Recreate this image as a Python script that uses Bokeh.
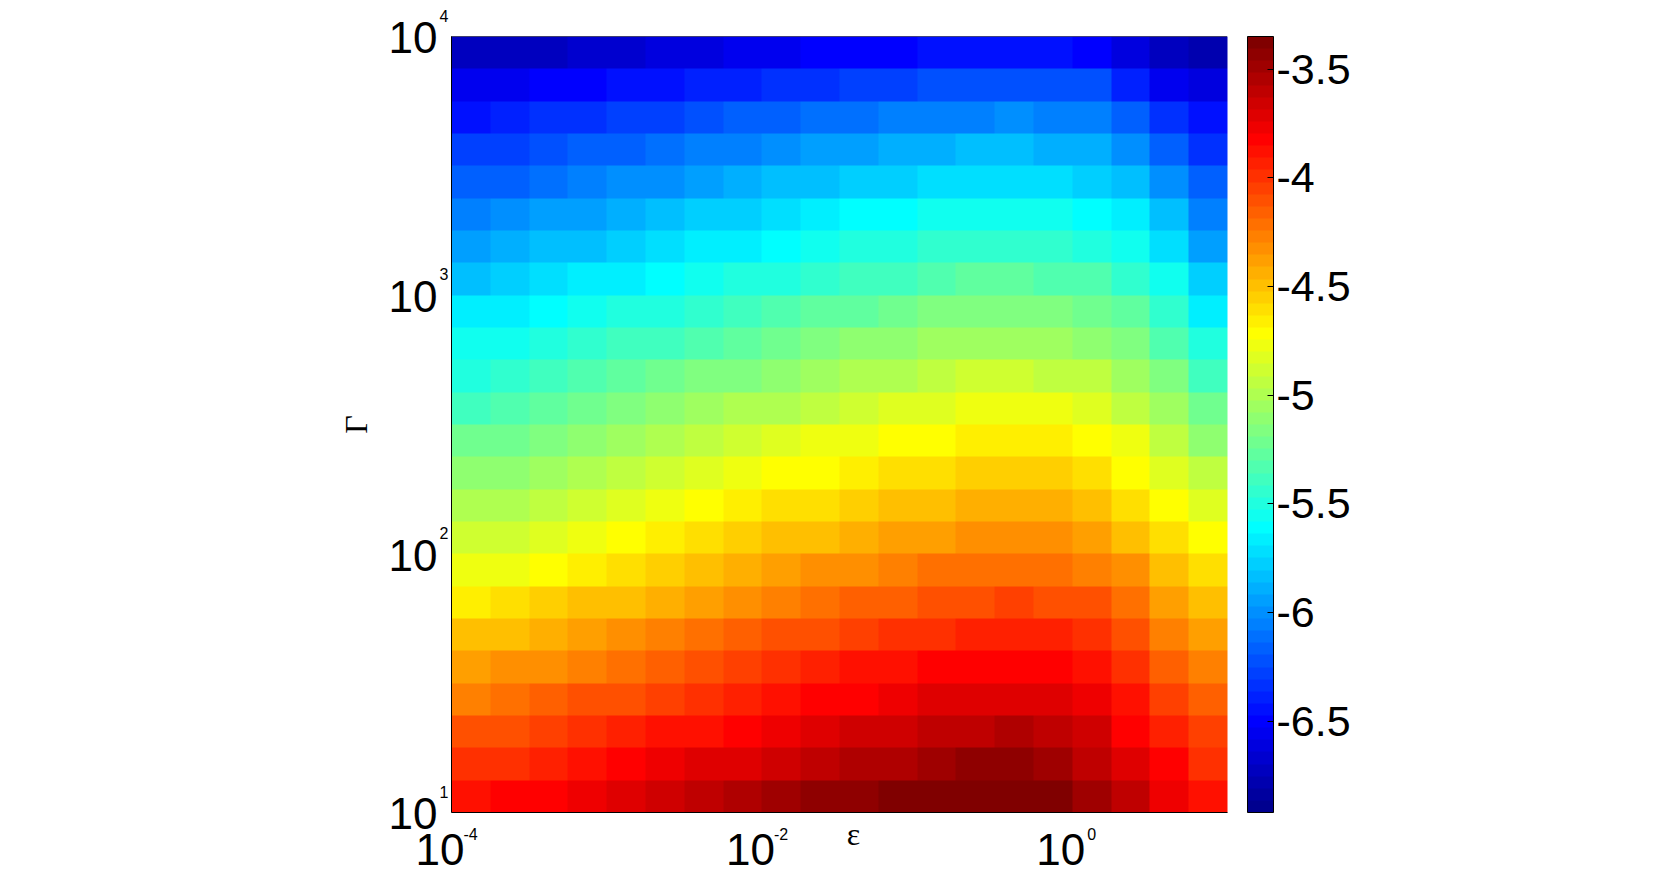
import numpy as np
from bokeh.plotting import figure
from bokeh.models import LinearColorMapper, ColorBar, FixedTicker, Label, Range1d, CustomJSTickFormatter
from bokeh.embed import file_html
from bokeh.resources import INLINE

# ---------------- data ----------------
eps_min, eps_max = 1e-4, 1e1          # x extent (epsilon)
gamma_min, gamma_max = 1e1, 1e4       # y extent (Gamma)

# rows from bottom (Gamma = 10) to top (Gamma = 1e4); 20 columns from eps = 1e-4 to 10
rate_rows = [
    [-3.88, -3.84, -3.80, -3.75, -3.70, -3.65, -3.61, -3.56, -3.51, -3.46, -3.42, -3.39, -3.36, -3.33, -3.32, -3.34, -3.47, -3.61, -3.75, -3.87],
    [-4.01, -3.97, -3.93, -3.88, -3.83, -3.78, -3.74, -3.69, -3.64, -3.59, -3.55, -3.52, -3.49, -3.46, -3.45, -3.47, -3.58, -3.71, -3.85, -3.98],
    [-4.13, -4.09, -4.05, -4.00, -3.95, -3.90, -3.86, -3.81, -3.76, -3.71, -3.67, -3.64, -3.61, -3.58, -3.57, -3.59, -3.67, -3.80, -3.95, -4.07],
    [-4.26, -4.22, -4.18, -4.13, -4.08, -4.03, -3.99, -3.94, -3.89, -3.84, -3.80, -3.77, -3.74, -3.71, -3.70, -3.72, -3.78, -3.90, -4.05, -4.18],
    [-4.39, -4.35, -4.30, -4.25, -4.20, -4.15, -4.10, -4.05, -4.00, -3.95, -3.90, -3.87, -3.84, -3.81, -3.80, -3.82, -3.89, -4.01, -4.15, -4.28],
    [-4.52, -4.48, -4.43, -4.38, -4.33, -4.28, -4.23, -4.18, -4.13, -4.08, -4.03, -4.00, -3.97, -3.94, -3.93, -3.95, -4.00, -4.11, -4.25, -4.39],
    [-4.66, -4.62, -4.57, -4.52, -4.47, -4.42, -4.37, -4.32, -4.27, -4.22, -4.17, -4.14, -4.11, -4.08, -4.07, -4.09, -4.13, -4.23, -4.37, -4.51],
    [-4.79, -4.75, -4.70, -4.65, -4.60, -4.55, -4.50, -4.45, -4.40, -4.35, -4.30, -4.27, -4.24, -4.21, -4.20, -4.22, -4.26, -4.35, -4.49, -4.63],
    [-4.91, -4.87, -4.82, -4.77, -4.72, -4.67, -4.62, -4.57, -4.52, -4.47, -4.42, -4.39, -4.36, -4.33, -4.32, -4.34, -4.38, -4.47, -4.60, -4.74],
    [-5.02, -4.98, -4.93, -4.88, -4.83, -4.78, -4.73, -4.68, -4.63, -4.58, -4.53, -4.50, -4.47, -4.44, -4.43, -4.45, -4.49, -4.58, -4.71, -4.85],
    [-5.13, -5.09, -5.04, -4.99, -4.94, -4.89, -4.84, -4.79, -4.74, -4.69, -4.64, -4.61, -4.58, -4.55, -4.54, -4.56, -4.60, -4.69, -4.82, -4.96],
    [-5.24, -5.20, -5.15, -5.10, -5.05, -5.00, -4.95, -4.90, -4.85, -4.80, -4.75, -4.72, -4.69, -4.66, -4.65, -4.67, -4.71, -4.80, -4.93, -5.08],
    [-5.36, -5.32, -5.27, -5.22, -5.17, -5.12, -5.07, -5.02, -4.97, -4.92, -4.87, -4.84, -4.81, -4.78, -4.77, -4.79, -4.83, -4.92, -5.05, -5.22],
    [-5.47, -5.43, -5.38, -5.34, -5.29, -5.24, -5.19, -5.14, -5.09, -5.04, -5.00, -4.97, -4.94, -4.91, -4.90, -4.92, -4.96, -5.04, -5.18, -5.36],
    [-5.58, -5.54, -5.50, -5.45, -5.40, -5.36, -5.31, -5.26, -5.22, -5.17, -5.12, -5.09, -5.06, -5.04, -5.03, -5.05, -5.08, -5.17, -5.31, -5.50],
    [-5.69, -5.66, -5.61, -5.57, -5.52, -5.47, -5.43, -5.38, -5.34, -5.29, -5.25, -5.22, -5.19, -5.16, -5.16, -5.17, -5.21, -5.29, -5.44, -5.64],
    [-5.81, -5.78, -5.73, -5.69, -5.65, -5.60, -5.56, -5.51, -5.47, -5.43, -5.38, -5.36, -5.33, -5.30, -5.29, -5.31, -5.35, -5.43, -5.58, -5.79],
    [-5.92, -5.89, -5.85, -5.81, -5.76, -5.72, -5.68, -5.64, -5.59, -5.55, -5.51, -5.48, -5.46, -5.43, -5.42, -5.44, -5.47, -5.55, -5.72, -5.92],
    [-6.04, -6.00, -5.96, -5.92, -5.88, -5.84, -5.80, -5.76, -5.72, -5.67, -5.63, -5.61, -5.58, -5.56, -5.55, -5.57, -5.60, -5.67, -5.86, -6.05],
    [-6.17, -6.14, -6.10, -6.06, -6.02, -5.98, -5.94, -5.90, -5.86, -5.82, -5.78, -5.76, -5.74, -5.71, -5.71, -5.72, -5.75, -5.85, -6.02, -6.19],
    [-6.29, -6.26, -6.22, -6.18, -6.15, -6.11, -6.07, -6.04, -6.00, -5.96, -5.93, -5.90, -5.88, -5.86, -5.85, -5.87, -5.90, -6.00, -6.17, -6.33],
    [-6.42, -6.39, -6.36, -6.32, -6.29, -6.26, -6.22, -6.19, -6.15, -6.12, -6.09, -6.07, -6.05, -6.03, -6.02, -6.03, -6.06, -6.17, -6.34, -6.47],
    [-6.57, -6.55, -6.52, -6.49, -6.46, -6.43, -6.40, -6.37, -6.34, -6.31, -6.28, -6.26, -6.24, -6.22, -6.22, -6.23, -6.25, -6.39, -6.53, -6.63],
    [-6.74, -6.72, -6.70, -6.67, -6.65, -6.62, -6.60, -6.57, -6.55, -6.52, -6.50, -6.48, -6.47, -6.45, -6.45, -6.46, -6.48, -6.62, -6.73, -6.80],
]

cbar_low, cbar_high = -6.92, -3.35
cbar_ticks = [-6.5, -6.0, -5.5, -5.0, -4.5, -4.0, -3.5]

x_ticks = [1e-4, 1e-2, 1e0]
x_exponents = ["-4", "-2", "0"]
y_ticks = [1e1, 1e2, 1e3, 1e4]
y_exponents = ["1", "2", "3", "4"]

x_title = "ε"
y_title = "Γ"


# ---------------- MATLAB jet(64) colormap ----------------
def matlab_jet(m=64):
    n = int(np.ceil(m / 4))
    u = np.concatenate([np.arange(1, n + 1) / n, np.ones(n - 1), np.arange(n, 0, -1) / n])
    g = int(np.ceil(n / 2)) - (1 if m % 4 == 1 else 0) + np.arange(1, len(u) + 1)
    r = g + n
    b = g - n
    g = g[g <= m]
    r = r[r <= m]
    b = b[b >= 1]
    J = np.zeros((m, 3))
    J[r - 1, 0] = u[:len(r)]
    J[g - 1, 1] = u[:len(g)]
    J[b - 1, 2] = u[len(u) - len(b):]
    return ["#%02x%02x%02x" % tuple(int(round(c * 255)) for c in row) for row in J]


palette = matlab_jet(64)
mapper = LinearColorMapper(palette=palette, low=cbar_low, high=cbar_high)

# ---------------- layout (pixels on the page) ----------------
CANVAS_W, CANVAS_H = 1400, 875
AX_L, AX_R, AX_T, AX_B = 451, 1227, 36, 812        # image box
CB_L, CB_W = 1247, 26                               # colour bar
TICK_FONT = "Liberation Sans"
TITLE_FONT = "Liberation Serif"
BIG, SMALL, TITLE = 44, 16, 32                      # font sizes (px)
BASE_FIX = 0.355                                    # baseline correction (fraction of font size)

lx0, lx1 = np.log10(eps_min), np.log10(eps_max)
ly0, ly1 = np.log10(gamma_min), np.log10(gamma_max)
ppx = (AX_R - AX_L) / (lx1 - lx0)
ppy = (AX_B - AX_T) / (ly1 - ly0)
x_range = Range1d(10 ** (lx0 - AX_L / ppx), 10 ** (lx1 + (CANVAS_W - AX_R) / ppx))
y_range = Range1d(10 ** (ly0 - (CANVAS_H - AX_B) / ppy), 10 ** (ly1 + AX_T / ppy))

p = figure(
    x_axis_type="log", y_axis_type="log",
    x_range=x_range, y_range=y_range,
    frame_width=CANVAS_W, frame_height=CANVAS_H,
    min_border=0, min_border_left=0, min_border_right=0,
    min_border_top=0, min_border_bottom=0,
    output_backend="svg", toolbar_location=None,
    background_fill_color="white", border_fill_color="white",
    outline_line_color=None,
)
p.grid.visible = False
p.xaxis.visible = False
p.yaxis.visible = False

grid = np.array(rate_rows)
p.image(image=[grid], x=eps_min, y=gamma_min,
        dw=eps_max - eps_min, dh=gamma_max - gamma_min, color_mapper=mapper)

# axis lines: left and bottom solid, top dotted
p.segment(x0=[eps_min, eps_min], y0=[gamma_min, gamma_min],
          x1=[eps_min, eps_max], y1=[gamma_max, gamma_min],
          line_color="black", line_width=1)
p.segment(x0=[eps_min], y0=[gamma_max], x1=[eps_max], y1=[gamma_max],
          line_color="black", line_width=1, line_dash="1 1")

cb = ColorBar(
    color_mapper=mapper,
    ticker=FixedTicker(ticks=cbar_ticks),
    formatter=CustomJSTickFormatter(code="return tick.toString()"),
    width=CB_W, height=AX_B - AX_T, location=(CB_L, CANVAS_H - AX_B),
    padding=0, margin=0,
    major_label_text_font=TICK_FONT, major_label_text_font_size="43px",
    major_label_text_color="black",
    major_tick_in=6, major_tick_out=0, major_tick_line_color="black",
    minor_tick_line_color=None,
    bar_line_color="black", bar_line_width=1,
    label_standoff=3,
    background_fill_color=None, border_line_color=None,
)
p.add_layout(cb)

# colour-bar ticks on the left inner edge too (MATLAB draws them on both sides)
cb_x0 = 10 ** (lx0 + (CB_L - AX_L) / ppx)
cb_x1 = 10 ** (lx0 + (CB_L + 6 - AX_L) / ppx)
cb_ys = [10 ** (ly0 + (v - cbar_low) / (cbar_high - cbar_low) * (ly1 - ly0)) for v in cbar_ticks]
p.segment(x0=[cb_x0] * len(cb_ys), y0=cb_ys, x1=[cb_x1] * len(cb_ys), y1=cb_ys,
          line_color="black", line_width=1)


def text_label(x, y, text, dx, dy, size, align, font=TICK_FONT):
    # dy is the wanted baseline offset (px, up positive); correct for Bokeh's baseline placement
    return Label(x=x, y=y, text=text, x_offset=dx, y_offset=dy + BASE_FIX * size,
                 text_align=align, text_baseline="alphabetic",
                 text_font=font, text_font_size=f"{size}px", text_color="black")


# x tick labels: "10" with a small raised exponent
for t, e in zip(x_ticks, x_exponents):
    p.add_layout(text_label(t, gamma_min, "10", 13, -53, BIG, "right"))
    p.add_layout(text_label(t, gamma_min, e, 12 + 3 * (2 - len(e)), -27, SMALL, "left"))

# y tick labels
for t, e in zip(y_ticks, y_exponents):
    p.add_layout(text_label(eps_min, t, "10", -14, -17, BIG, "right"))
    p.add_layout(text_label(eps_min, t, e, -12, 15, SMALL, "left"))

# axis titles
x_mid = np.sqrt(eps_min * eps_max)
y_mid = np.sqrt(gamma_min * gamma_max)
p.add_layout(text_label(x_mid, gamma_min, x_title, 14, -33, TITLE, "center", font=TITLE_FONT))
p.add_layout(Label(x=eps_min, y=y_mid, text=y_title, x_offset=-84 - BASE_FIX * TITLE, y_offset=0,
                   angle=90, angle_units="deg",
                   text_align="center", text_baseline="alphabetic",
                   text_font=TITLE_FONT, text_font_size=f"{TITLE}px", text_color="black"))

open("out.html", "w").write(file_html(p, INLINE))
